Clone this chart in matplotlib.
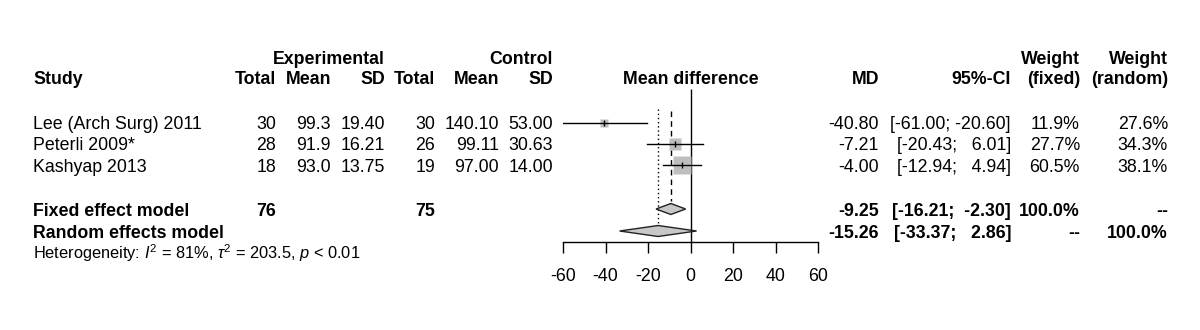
import numpy as np
import matplotlib
matplotlib.use("Agg")
import matplotlib.pyplot as plt

plt.rcParams['font.family'] = ['Liberation Sans', 'DejaVu Sans']
plt.rcParams['mathtext.fontset'] = 'custom'
plt.rcParams['mathtext.rm'] = 'Liberation Sans'
plt.rcParams['mathtext.it'] = 'Liberation Sans:italic'
plt.rcParams['axes.unicode_minus'] = False

# data
studies = ["Lee (Arch Surg) 2011", "Peterli 2009*", "Kashyap 2013"]
e_total = [30, 28, 18]
e_mean = [99.3, 91.9, 93.0]
e_sd = [19.40, 16.21, 13.75]
c_total = [30, 26, 19]
c_mean = [140.10, 99.11, 97.00]
c_sd = [53.00, 30.63, 14.00]
md = [-40.80, -7.21, -4.00]
ci_lo = [-61.00, -20.43, -12.94]
ci_hi = [-20.60, 6.01, 4.94]
w_fixed = [11.9, 27.7, 60.5]
w_random = [27.6, 34.3, 38.1]
fixed_est, fixed_lo, fixed_hi = -9.25, -16.21, -2.30
random_est, random_lo, random_hi = -15.26, -33.37, 2.86
n_e_total, n_c_total = 76, 75
xticks = [-60, -40, -20, 0, 20, 40, 60]
het_text = r"Heterogeneity: $\it{I}^2$ = 81%, $\tau^2$ = 203.5, $\it{p}$ < 0.01"

W, H = 1200, 330
FS = 12.8
fig = plt.figure(figsize=(W / 100, H / 100), dpi=100)


def put(x, y, s, ha='right', bold=False, size=FS):
    # y is visual centre of capitals in pixels from top
    fig.text(x / W, 1 - (y + 6.5) / H, s, ha=ha, va='baseline',
             fontweight='bold' if bold else 'normal', fontsize=size)


def ci_str(lo, hi):
    return f"[{lo:6.2f}; {hi:6.2f}]"


# headers
put(385, 57, "Experimental", bold=True)
put(553, 57, "Control", bold=True)
put(1080, 57, "Weight", bold=True)
put(1168, 57, "Weight", bold=True)
put(33, 78, "Study", ha='left', bold=True)
put(276, 78, "Total", bold=True)
put(331, 78, "Mean", bold=True)
put(385, 78, "SD", bold=True)
put(435, 78, "Total", bold=True)
put(499, 78, "Mean", bold=True)
put(553, 78, "SD", bold=True)
put(691, 78, "Mean difference", ha='center', bold=True)
put(879, 78, "MD", bold=True)
put(1011, 78, "95%-CI", bold=True)
put(1080, 78, "(fixed)", bold=True)
put(1168, 78, "(random)", bold=True)

row_y = [123, 144, 165]
for i, y in enumerate(row_y):
    put(33, y, studies[i], ha='left')
    put(276, y, f"{e_total[i]}")
    put(331, y, f"{e_mean[i]:.1f}")
    put(385, y, f"{e_sd[i]:.2f}")
    put(435, y, f"{c_total[i]}")
    put(499, y, f"{c_mean[i]:.2f}")
    put(553, y, f"{c_sd[i]:.2f}")
    put(879, y, f"{md[i]:.2f}")
    put(1011, y, ci_str(ci_lo[i], ci_hi[i]))
    put(1080, y, f"{w_fixed[i]:.1f}%")
    put(1168, y, f"{w_random[i]:.1f}%")

yf, yr = 209, 231
put(33, yf, "Fixed effect model", ha='left', bold=True)
put(276, yf, f"{n_e_total}", bold=True)
put(435, yf, f"{n_c_total}", bold=True)
put(879, yf, f"{fixed_est:.2f}", bold=True)
put(1011, yf, ci_str(fixed_lo, fixed_hi), bold=True)
put(1080, yf, "100.0%", bold=True)
put(1168, yf, "--", bold=True)

put(33, yr, "Random effects model", ha='left', bold=True)
put(879, yr, f"{random_est:.2f}", bold=True)
put(1011, yr, ci_str(random_lo, random_hi), bold=True)
put(1080, yr, "--", bold=True)
put(1168, yr, "100.0%", bold=True)

put(33, 252, het_text, ha='left', size=11.8)

# forest panel
ax = fig.add_axes([563 / W, 0, 255 / W, 1])
ax.set_xlim(-60, 60)
ax.set_ylim(H, 0)
ax.patch.set_alpha(0)
for s in ['left', 'right', 'top']:
    ax.spines[s].set_visible(False)
ax.spines['bottom'].set_position(('data', 242))
ax.spines['bottom'].set_linewidth(1.0)
ax.set_yticks([])
ax.set_xticks(xticks)
ax.set_xticklabels([str(t) for t in xticks], fontsize=FS)
ax.tick_params(axis='x', length=8, width=1.0, pad=11)

ax.vlines(0, 89, 242, color='k', lw=1.0)
ax.vlines(fixed_est, 111, 201, color='k', lw=1.0, linestyles=(0, (4, 3)))
ax.vlines(random_est, 109, 224, color='k', lw=1.0, linestyles=(0, (1, 2)))

for i, y in enumerate(row_y):
    side = 2.4 * np.sqrt(w_fixed[i]) * 0.72
    ax.plot([md[i]], [y], marker='s', ms=side, color='#bebebe', mec='none', zorder=2)
    ax.plot([ci_lo[i], ci_hi[i]], [y, y], color='k', lw=1.0, zorder=3)
    ax.plot([md[i]], [y], marker='|', ms=5, color='k', mew=1.0, zorder=4)

for est, lo, hi, y in [(fixed_est, fixed_lo, fixed_hi, yf), (random_est, random_lo, random_hi, yr)]:
    ax.fill([lo, est, hi, est], [y, y - 5.5, y, y + 5.5], facecolor='#c8c8c8',
            edgecolor='#222222', lw=1.0, zorder=3)

fig.savefig("out.png", dpi=100)
